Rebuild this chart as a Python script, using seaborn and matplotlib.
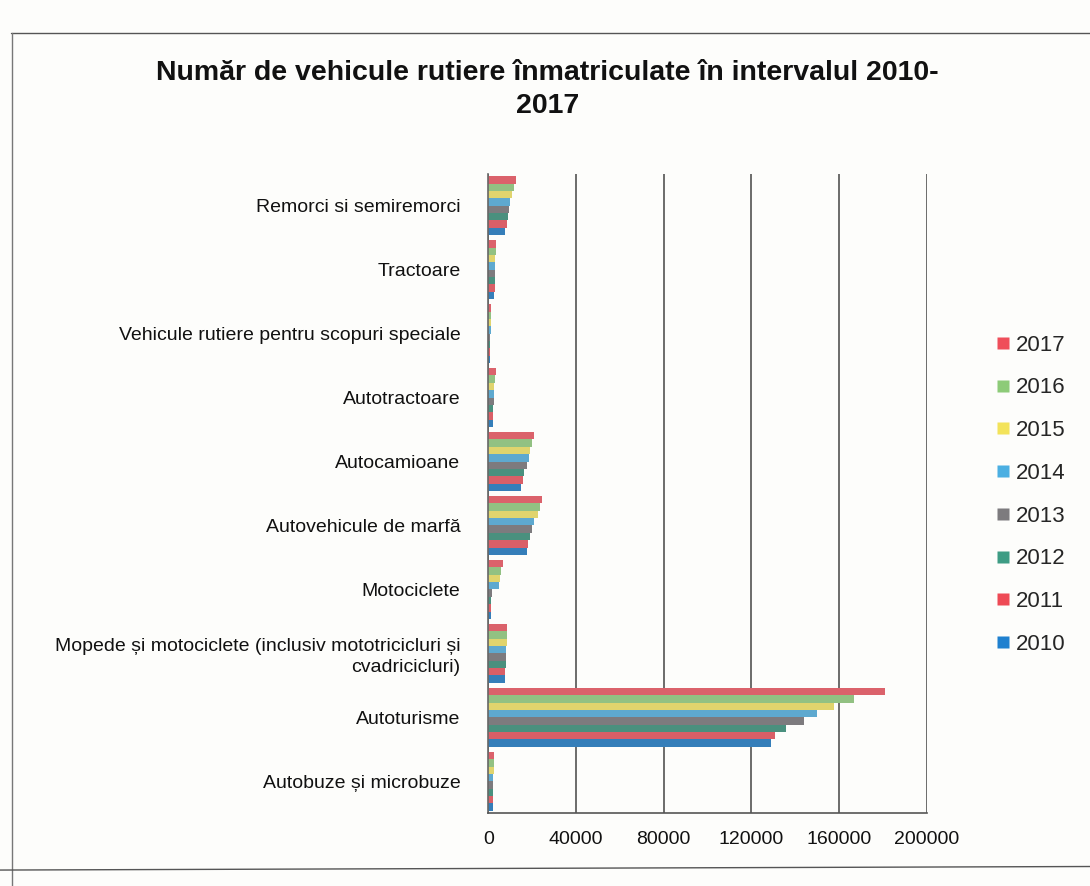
import matplotlib
matplotlib.use("Agg")
import matplotlib.pyplot as plt
from matplotlib.lines import Line2D
import pandas as pd
import seaborn as sns

categories = [
    "Remorci si semiremorci",
    "Tractoare",
    "Vehicule rutiere pentru scopuri speciale",
    "Autotractoare",
    "Autocamioane",
    "Autovehicule de marfă",
    "Motociclete",
    "Mopede și motociclete (inclusiv mototricicluri și\ncvadricicluri)",
    "Autoturisme",
    "Autobuze și microbuze",
]

years = ["2017", "2016", "2015", "2014", "2013", "2012", "2011", "2010"]

# registered vehicles per category, one list per year (same category order)
v2017 = [12500, 3500, 1200, 3500, 21000, 24500, 6500, 8600, 181000, 2600]
v2016 = [11500, 3300, 1100, 3000, 20000, 23500, 6000, 8500, 167000, 2500]
v2015 = [10800, 3200, 1000, 2800, 19000, 22500, 5500, 8300, 158000, 2400]
v2014 = [10000, 3100, 1000, 2600, 18500, 21000, 5000, 8200, 150000, 2300]
v2013 = [9300, 3000, 900, 2400, 17500, 20000, 1500, 8000, 144000, 2200]
v2012 = [8800, 3000, 900, 2200, 16500, 19000, 1400, 8000, 136000, 2200]
v2011 = [8300, 2900, 850, 2100, 16000, 18000, 1300, 7800, 131000, 2100]
v2010 = [7500, 2800, 800, 2000, 15000, 17500, 1200, 7800, 129000, 2000]

series = [v2017, v2016, v2015, v2014, v2013, v2012, v2011, v2010]
colors = ["#EF4E5A", "#8DCB78", "#F3E35A", "#4BAFE2",
          "#7D7B7E", "#3E9C84", "#EE4A55", "#1F80CF"]

rows = []
for yr, vals in zip(years, series):
    for cat, v in zip(categories, vals):
        rows.append({"Categorie": cat, "An": yr, "Valoare": v})
df = pd.DataFrame(rows)

sns.set_theme(style="white")
plt.rcParams["font.family"] = ["Liberation Sans", "DejaVu Sans"]

fig = plt.figure(figsize=(10.9, 8.86), dpi=100)
fig.patch.set_facecolor("#FDFDFB")
ax = fig.add_axes([0.448, 0.082, 0.402, 0.722])
ax.set_facecolor("none")

sns.barplot(data=df, y="Categorie", x="Valoare", hue="An",
            order=categories, hue_order=years, palette=colors,
            orient="h", width=0.92, errorbar=None, ax=ax,
            edgecolor="none", legend=False)

ax.set_xlim(0, 200000)
ax.set_xticks([0, 40000, 80000, 120000, 160000, 200000])
ax.set_xticklabels(["0", "40000", "80000", "120000", "160000", "200000"],
                   fontsize=14)
ax.tick_params(axis="x", length=0, pad=13, colors="#111111")
ax.tick_params(axis="y", length=0, pad=20, labelsize=14, colors="#111111")
for lbl in ax.get_yticklabels():
    lbl.set_linespacing(1.3)
ax.set_xlabel("")
ax.set_ylabel("")
ax.grid(axis="x", color="#444444", linewidth=1.1)
ax.set_axisbelow(True)
for s in ["top", "right"]:
    ax.spines[s].set_visible(False)
ax.spines["left"].set_color("#666666")
ax.spines["bottom"].set_color("#555555")
ax.spines["left"].set_linewidth(1.2)
ax.spines["bottom"].set_linewidth(1.2)

fig.text(0.502, 0.918, "Număr de vehicule rutiere înmatriculate în intervalul 2010-",
         ha="center", va="center", fontsize=20.5, fontweight="bold", color="#111111")
fig.text(0.502, 0.880, "2017", ha="center", va="center",
         fontsize=20.5, fontweight="bold", color="#111111")

handles = [Line2D([0], [0], marker="s", linestyle="none", markersize=8,
                  markerfacecolor=c, markeredgecolor="none") for c in colors]
fig.legend(handles, years, loc="upper left", bbox_to_anchor=(0.893, 0.645),
           frameon=False, fontsize=16, labelspacing=0.98, handletextpad=0.1,
           handlelength=0.9)

# page frame of the printed sheet
fig.add_artist(Line2D([0.01, 1.0], [0.963, 0.963], color="#555555", linewidth=1.0))
fig.add_artist(Line2D([0.011, 0.011], [0.0, 0.963], color="#777777", linewidth=1.0))
fig.add_artist(Line2D([0.0, 1.0], [0.018, 0.022], color="#555555", linewidth=1.0))

fig.savefig("out.png", dpi=100, facecolor=fig.get_facecolor())
